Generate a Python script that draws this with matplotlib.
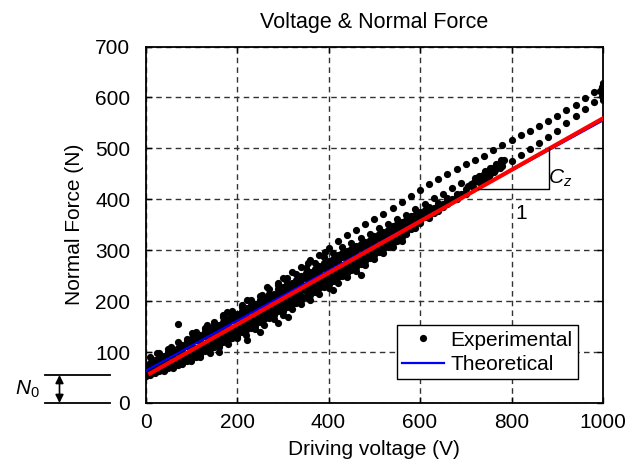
import numpy as np
import matplotlib
matplotlib.use('Agg')
import matplotlib.pyplot as plt

plt.rcParams['font.family'] = 'Liberation Sans'
plt.rcParams['mathtext.fontset'] = 'custom'
plt.rcParams['mathtext.rm'] = 'Liberation Sans'
plt.rcParams['mathtext.it'] = 'Liberation Sans:italic'

# voltage grids of the measured sweeps (V)
volt_a = [0, 20, 40, 60, 80, 100, 120, 140, 160, 180, 200, 220, 240, 260, 280, 300, 320, 340,
          360, 380, 400, 420, 440, 460, 480, 500, 520, 540, 560, 580, 600, 620, 640, 660, 680, 700]
volt_b = [10, 30, 50, 70, 90, 110, 130, 150, 170, 190, 210, 230, 250, 270, 290, 310, 330, 350,
          370, 390, 410, 430, 450, 470, 490, 510, 530, 550, 570, 590, 610, 630, 650, 670, 690]

# measured normal force of each sweep (N)
force_a1 = [63, 68, 76, 82, 90, 98, 109, 116, 127, 134, 145, 154, 165, 173, 185, 194, 202, 215,
            226, 235, 248, 259, 271, 282, 294, 306, 318]
force_a2 = [53, 61, 69, 77, 86, 95, 103, 114, 122, 133, 141, 152, 160, 173, 182, 190, 203, 211,
            222, 233, 241, 255, 264, 276, 287, 296, 308, 319, 330, 342, 353, 364]
force_a3 = [63, 72, 81, 90, 100, 111, 119, 130, 138, 150, 159, 171, 178, 191, 200, 212, 219, 231,
            240, 252, 261, 274, 282, 293, 301, 312, 320, 331, 339, 351, 360, 371, 380, 391, 400, 411]
force_a4 = [75, 84, 93, 105, 113, 125, 134, 146, 153, 165, 174, 187, 195, 207, 215, 228, 236, 249,
            257, 270, 278, 290, 298, 309, 317, 328, 336, 347, 355, 367, 375, 384, 393, 402, 411, 420]
force_a5 = [58, 65, 72, 80, 87, 95, 106, 113, 124, 132, 143, 151, 165, 173, 181, 194, 202, 213,
            225, 233, 247, 256, 268, 279, 290, 302, 314, 326]
force_a6 = [58, 66, 75, 83, 92, 101, 110, 121, 129, 140, 148, 160, 169, 182, 189, 201, 210, 222,
            229, 241, 250, 263, 272, 284, 293, 305, 314, 326, 335, 348, 357, 369, 378]
force_a7 = [69, 78, 87, 98, 107, 118, 126, 138, 147, 159, 166, 178, 187, 200, 207, 219, 228, 241,
            249, 260, 268, 281, 290, 301, 309, 320, 328, 339, 347, 359, 367, 378, 386, 397, 406]
force_b1 = [55, 62, 68, 75, 83, 91, 102, 109, 120, 128, 139, 147, 159, 167, 180, 188, 196, 209,
            217, 228, 240, 250, 262, 273, 284, 296, 307, 319, 331, 343]
force_b2 = [62, 71, 79, 88, 97, 108, 116, 127, 135, 146, 154, 166, 176, 188, 195, 207, 216, 228,
            235, 247, 258, 267, 280, 289, 301, 310, 322, 331, 343, 352, 365, 374, 385]
force_b3 = [76, 85, 93, 102, 112, 123, 131, 142, 150, 162, 171, 183, 192, 205, 213, 224, 232, 245,
            253, 266, 274, 286, 294, 305, 313, 324, 332, 343, 351, 362, 371, 382, 390, 401, 410]
force_b4 = [90, 98, 106, 119, 126, 139, 147, 160, 168, 181, 189, 202, 211, 224, 232, 245, 253, 266,
            274, 287, 295, 307, 314, 325, 332, 343, 351, 362, 370, 381, 390, 402, 411, 423, 432]
force_b5 = [78, 89, 100, 108, 122, 130, 141, 153, 160, 172, 181, 193, 202, 215, 223, 234, 242, 255,
            263, 274, 282, 294, 302, 313, 321, 332, 340, 351, 359, 370, 379]
force_b6 = [65, 72, 80, 89, 98, 107, 118, 126, 137, 145, 157, 167, 179, 186, 198, 207, 219, 226,
            238, 247, 260, 269, 281, 290, 302, 311, 323, 334]

# upper and middle branches at high voltage
volt_u = [300, 320, 340, 360, 380, 400, 420, 440, 460, 480, 500, 520, 540, 560, 580, 600, 620, 640,
          660, 680, 700, 720, 740, 760, 780, 800, 820, 840, 860, 880, 900, 920, 940, 960, 980, 1000]
force_u = [245, 257, 268, 280, 291, 305, 318, 329, 340, 351, 361, 372, 383, 394, 407, 419, 431, 440,
           450, 459, 469, 478, 486, 496, 506, 516, 526, 535, 544, 553, 563, 575, 586, 598, 611, 624]
volt_m = [720, 740, 760, 780, 800, 820, 840, 860, 880, 900, 920, 940, 960, 980, 1000]
force_m = [442, 449, 458, 466, 475, 487, 499, 511, 523, 535, 549, 563, 577, 591, 605]

# scattered points
volt_hi = [25, 55, 71, 101, 134, 170, 178, 210, 221, 254, 265, 290, 308, 355, 392]
force_hi = [98, 110, 156, 137, 153, 172, 179, 192, 202, 212, 228, 235, 241, 274, 297]
volt_lo = [160, 221, 250, 290, 312, 410, 470]
force_lo = [100, 124, 140, 157, 169, 222, 252]
volt_cl = [704, 712, 718, 724, 728, 732, 736, 740, 744, 748, 752, 756, 760, 764, 768, 772, 776,
           780, 784, 730, 742, 754, 766, 778, 738, 750, 762, 774, 695, 716, 746]
force_cl = [426, 430, 434, 438, 434, 442, 446, 442, 450, 454, 450, 458, 462, 458, 466, 470, 466,
            474, 477, 445, 455, 461, 470, 478, 436, 446, 454, 462, 411, 425, 440]
volt_end = [994, 997, 999, 1000, 1000, 998]
force_end = [612, 603, 596, 616, 628, 620]

# lines
volt_fit = [10, 1000]
force_fit = [58, 559]
volt_theory = [0, 1000]
force_theory = [63, 555]
tri_volt = [727, 883, 883]
tri_force = [420, 420, 500]
n0 = 55

sweeps = [
    (volt_a[2:2 + len(force_a1)], force_a1),
    (volt_a[:len(force_a2)], force_a2),
    (volt_a[:len(force_a3)], force_a3),
    (volt_a[:len(force_a4)], force_a4),
    (volt_a[1:1 + len(force_a5)], force_a5),
    (volt_a[:len(force_a6)], force_a6),
    (volt_a[:len(force_a7)], force_a7),
    (volt_b[:len(force_b1)], force_b1),
    (volt_b[:len(force_b2)], force_b2),
    (volt_b[:len(force_b3)], force_b3),
    (volt_b[:len(force_b4)], force_b4),
    (volt_b[:len(force_b5)], force_b5),
    (volt_b[1:1 + len(force_b6)], force_b6),
    (volt_u, force_u),
    (volt_m, force_m),
    (volt_hi, force_hi),
    (volt_lo, force_lo),
    (volt_cl, force_cl),
    (volt_end, force_end),
]

fs = 15

fig, ax = plt.subplots(figsize=(6.28, 4.75), dpi=100)
fig.subplots_adjust(left=0.2317, right=0.9602, top=0.902, bottom=0.1516)

for i, (v, f) in enumerate(sweeps):
    ax.plot(v, f, 'o', color='black', ms=5.2, mew=0, zorder=3,
            label='Experimental' if i == 0 else '_nolegend_')

ax.plot(volt_theory, force_theory, color='blue', lw=1.6, zorder=4, label='Theoretical')
ax.plot(volt_fit, force_fit, color='red', lw=3, zorder=5, label='_nolegend_')

# slope triangle
ax.plot(tri_volt, tri_force, color='black', lw=1, zorder=6)
ax.text(906, 441, '$C_z$', fontsize=fs, ha='center', va='center')
ax.text(822, 372, '1', fontsize=fs, ha='center', va='center')

ax.set_xlim(0, 1000)
ax.set_ylim(0, 700)
ax.set_xticks(np.arange(0, 1001, 200))
ax.set_yticks(np.arange(0, 701, 100))
ax.grid(True, color='0.2', lw=1, linestyle=(0, (4, 3)))
ax.set_axisbelow(True)
ax.tick_params(direction='in', top=True, right=True, length=4, width=1, labelsize=fs)
ax.tick_params(axis='x', pad=7)
ax.tick_params(axis='y', pad=11)
for s in ax.spines.values():
    s.set_linewidth(1.3)

ax.set_title('Voltage & Normal Force', fontsize=15.5, pad=13)
ax.set_xlabel('Driving voltage (V)', fontsize=fs, labelpad=6)
ax.set_ylabel('Normal Force (N)', fontsize=fs, labelpad=8)

leg = ax.legend(loc='lower left', bbox_to_anchor=(0.55, 0.067), borderaxespad=0,
                fontsize=fs, frameon=True, fancybox=False, framealpha=1, edgecolor='black',
                handlelength=2.0, handletextpad=0.3, borderpad=0.25, labelspacing=0.25)
leg.get_frame().set_linewidth(1)

# N0 marker outside the axes
tr = ax.get_yaxis_transform()
for yv in (0, n0):
    ax.plot([-0.22, -0.078], [yv, yv], color='black', lw=1.3, transform=tr, clip_on=False)
ax.annotate('', xy=(-0.188, n0), xytext=(-0.188, 0), xycoords=tr, textcoords=tr,
            arrowprops=dict(arrowstyle='<|-|>', color='black', lw=1.2, mutation_scale=12,
                            shrinkA=0, shrinkB=0))
ax.text(-0.259, n0 / 2, '$N_0$', fontsize=fs, ha='center', va='center', transform=tr)

fig.savefig('out.png', dpi=100)
